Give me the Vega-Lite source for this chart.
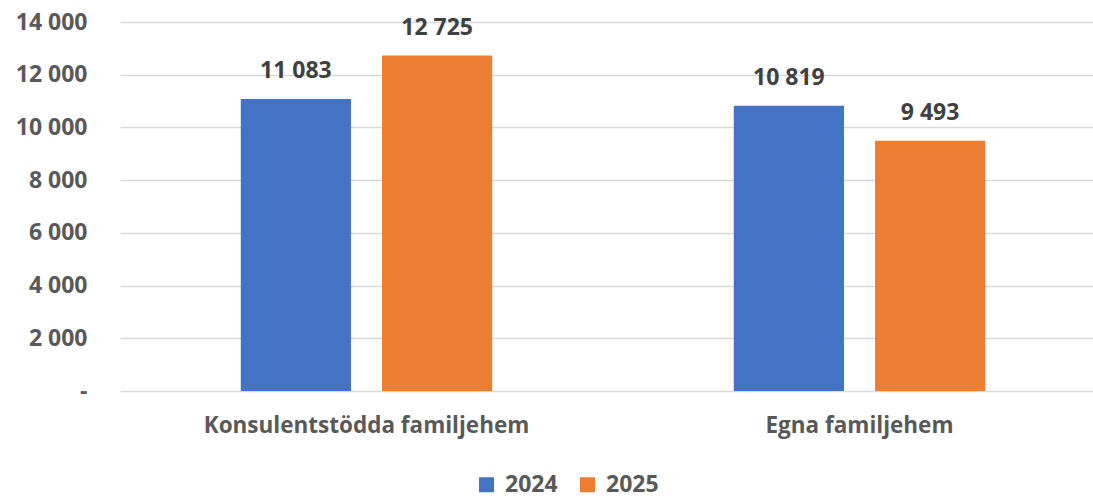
{
  "$schema": "https://vega.github.io/schema/vega-lite/v6.json",
  "autosize": "none",
  "width": 973,
  "height": 369,
  "padding": {"left": 120, "top": 22, "right": 0, "bottom": 108},
  "background": "white",
  "config": {
    "locale": {"number": {"decimal": ",", "thousands": " ", "grouping": [3], "currency": ["", " kr"]}},
    "view": {"stroke": null},
    "font": "Open Sans"
  },
  "data": {
    "values": [
      {"kategori": "Konsulentstödda familjehem", "year": "2024", "value": 11083},
      {"kategori": "Konsulentstödda familjehem", "year": "2025", "value": 12725},
      {"kategori": "Egna familjehem", "year": "2024", "value": 10819},
      {"kategori": "Egna familjehem", "year": "2025", "value": 9493}
    ]
  },
  "encoding": {
    "x": {
      "field": "kategori", "type": "nominal", "sort": ["Konsulentstödda familjehem", "Egna familjehem"],
      "scale": {"range": [0, 986], "paddingInner": 0.49, "paddingOuter": 0.245},
      "axis": {"title": null, "labelAngle": 0, "ticks": false, "domain": false, "labelLimit": 0, "labelFont": "Open Sans", "labelFontWeight": "bold", "labelFontSize": 22.5, "labelColor": "#595959", "labelPadding": 23, "labelBaseline": "top"}
    },
    "xOffset": {"field": "year", "type": "nominal", "scale": {"paddingInner": 0.22, "paddingOuter": 0}},
    "y": {
      "field": "value", "type": "quantitative",
      "scale": {"domain": [0, 14000], "nice": false},
      "axis": {"title": null, "values": [0, 2000, 4000, 6000, 8000, 10000, 12000, 14000], "format": ",d", "labelExpr": "datum.value === 0 ? '-' : datum.label", "ticks": false, "domain": false, "grid": true, "gridColor": "#D9D9D9", "gridWidth": 1.5, "labelFont": "Open Sans", "labelFontWeight": "bold", "labelFontSize": 23, "labelColor": "#595959", "labelPadding": 33}
    }
  },
  "layer": [
    {
      "mark": {"type": "bar"},
      "encoding": {
        "color": {
          "field": "year", "type": "nominal",
          "scale": {"domain": ["2024", "2025"], "range": ["#4472C4", "#ED7D31"]},
          "legend": {"title": null, "orient": "none", "legendX": 355, "legendY": 451, "direction": "horizontal", "symbolType": "square", "symbolSize": 225, "symbolStrokeWidth": 0, "labelFont": "Open Sans", "labelFontWeight": "bold", "labelFontSize": 23, "labelColor": "#595959", "columnPadding": 18, "labelOffset": 7}
        }
      }
    },
    {
      "mark": {"type": "text", "baseline": "alphabetic", "dy": -21, "font": "Open Sans", "fontWeight": "bold", "fontSize": 23, "color": "#404040"},
      "encoding": {"text": {"field": "value", "type": "quantitative", "format": ",d"}}
    }
  ]
}
